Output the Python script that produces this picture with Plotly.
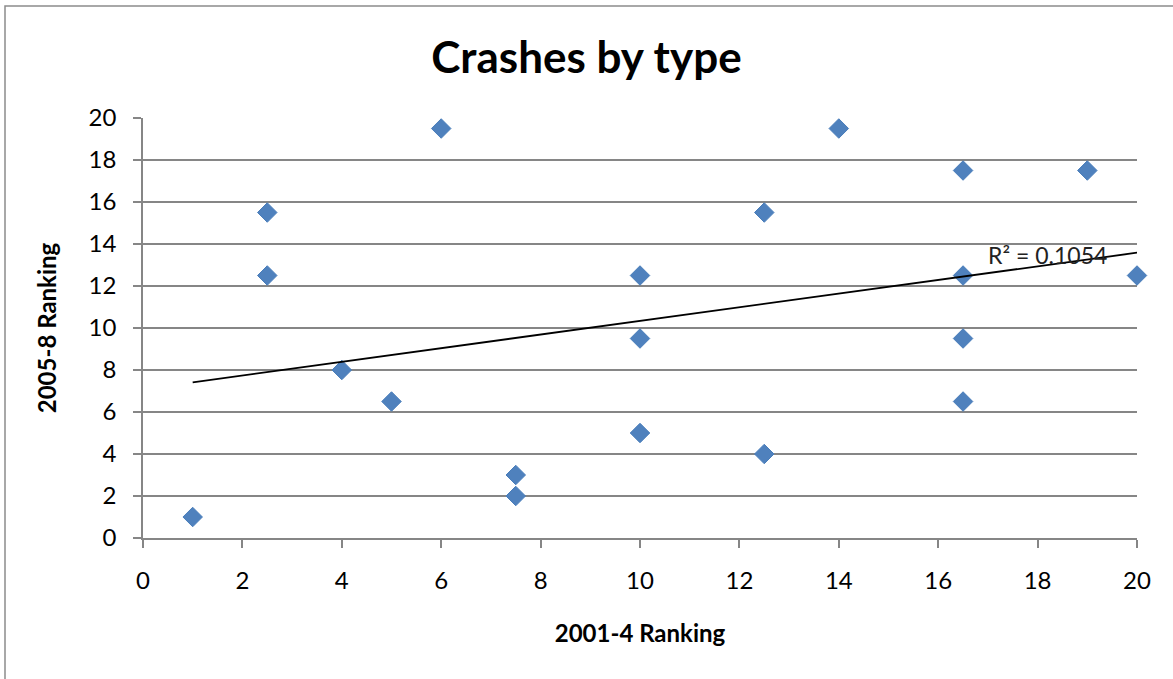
import numpy as np
import plotly.graph_objects as go

x_rank = [1, 2.5, 2.5, 4, 5, 6, 7.5, 7.5, 10, 10, 10, 12.5, 12.5, 14, 16.5, 16.5, 16.5, 16.5, 19, 20]
y_rank = [1, 15.5, 12.5, 8, 6.5, 19.5, 3, 2, 12.5, 9.5, 5, 15.5, 4, 19.5, 17.5, 12.5, 9.5, 6.5, 17.5, 12.5]
r2_label = "R² = 0.1054"

xa = np.array(x_rank)
ya = np.array(y_rank)
slope, intercept = np.polyfit(xa, ya, 1)
tx = [xa.min(), xa.max()]
ty = [slope * v + intercept for v in tx]

FONT = "Lato"
GRID = "#868686"

fig = go.Figure()
fig.add_trace(go.Scatter(
    x=x_rank, y=y_rank, mode="markers",
    marker=dict(symbol="diamond", size=15, color="#4F81BD",
                line=dict(color="#4A7EBB", width=1)),
    showlegend=False, hoverinfo="x+y", cliponaxis=False))
fig.add_trace(go.Scatter(
    x=tx, y=ty, mode="lines", line=dict(color="black", width=1.8),
    showlegend=False, hoverinfo="skip"))

fig.add_annotation(x=18.2, y=13.5, xref="x", yref="y", text=r2_label,
                   showarrow=False, font=dict(family=FONT, size=23, color="#222"))

fig.add_shape(type="rect", xref="paper", yref="paper",
              x0=-138/994, x1=1.2, y0=-0.6, y1=1 + 112/420,
              line=dict(color="#8c8c8c", width=1.5), fillcolor="rgba(0,0,0,0)", layer="below")

fig.update_layout(
    width=1173, height=679,
    margin=dict(l=143, r=36, t=118, b=141),
    paper_bgcolor="white", plot_bgcolor="white",
    font=dict(family=FONT, size=24, color="black"),
    title=dict(text="<b>Crashes by type</b>", x=0.5, xref="container", xanchor="center",
               y=1 - 58 / 679, yref="container", yanchor="middle",
               font=dict(family=FONT, size=44, color="black")),
    xaxis=dict(range=[0, 20], dtick=2, tick0=0, showgrid=False, zeroline=False,
               showline=True, linecolor=GRID, linewidth=1.5,
               ticks="outside", ticklen=8, tickcolor=GRID, tickwidth=1.5,
               ticklabelstandoff=12,
               title=dict(text="<b>2001-4 Ranking</b>", font=dict(family=FONT, size=24), standoff=33),
               tickfont=dict(family=FONT, size=24), fixedrange=True),
    yaxis=dict(range=[0, 20], dtick=2, tick0=0, showgrid=True, gridcolor=GRID, gridwidth=1.5,
               zeroline=False, showline=True, linecolor=GRID, linewidth=1.5,
               ticks="outside", ticklen=8, tickcolor=GRID, tickwidth=1.5,
               ticklabelstandoff=12,
               title=dict(text="<b>2005-8 Ranking</b>", font=dict(family=FONT, size=24), standoff=25),
               tickfont=dict(family=FONT, size=24), fixedrange=True),
)

fig.write_html("out.html", config={"displayModeBar": False},
               post_script="document.body.style.margin='0';document.body.style.overflow='hidden';")
